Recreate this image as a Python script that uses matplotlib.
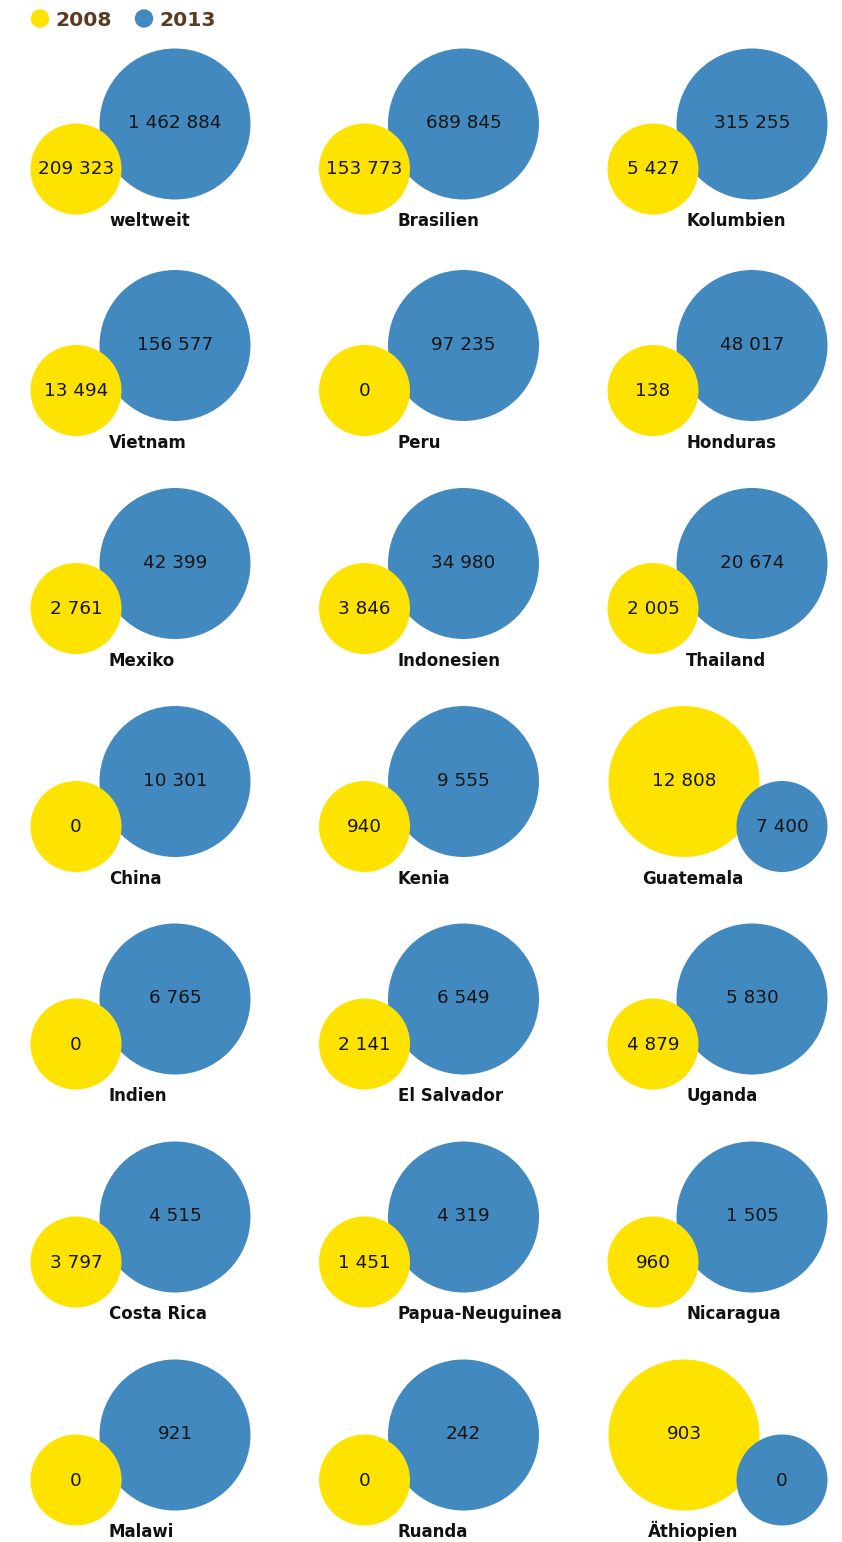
import matplotlib.pyplot as plt
from matplotlib.patches import Circle

countries = ["weltweit", "Brasilien", "Kolumbien", "Vietnam", "Peru", "Honduras",
             "Mexiko", "Indonesien", "Thailand", "China", "Kenia", "Guatemala",
             "Indien", "El Salvador", "Uganda", "Costa Rica", "Papua-Neuguinea",
             "Nicaragua", "Malawi", "Ruanda", "Äthiopien"]
v2008 = [209323, 153773, 5427, 13494, 0, 138, 2761, 3846, 2005, 0, 940, 12808,
         0, 2141, 4879, 3797, 1451, 960, 0, 0, 903]
v2013 = [1462884, 689845, 315255, 156577, 97235, 48017, 42399, 34980, 20674,
         10301, 9555, 7400, 6765, 6549, 5830, 4515, 4319, 1505, 921, 242, 0]
years = ["2008", "2013"]

YELLOW = "#FFE300"
BLUE = "#4289BF"
BROWN = "#5B3A22"

W, H = 842, 1542
fig = plt.figure(figsize=(W / 100, H / 100), dpi=100)
ax = fig.add_axes([0, 0, 1, 1])
ax.set_xlim(0, W)
ax.set_ylim(H, 0)
ax.set_aspect("equal")
ax.axis("off")

# row centres of the big circle (pixels from top)
row_y = [124, 345.5, 563.5, 781.5, 999, 1217, 1435]


def fmt(v):
    return f"{v:,}".replace(",", " ")


num_font = dict(family="DejaVu Sans", fontsize=13.2, color="#151515")
lab_font = dict(family="DejaVu Sans", fontsize=12, fontweight="bold", color="#111111")

for i, name in enumerate(countries):
    cx = (i % 3) * 288.5
    cy = row_y[i // 3]
    a, b = v2008[i], v2013[i]
    if b >= a:
        big = (cx + 175, cy, BLUE, b)
        small = (cx + 76, cy + 45, YELLOW, a)
        lx, ha = cx + 109, "left"
    else:
        big = (cx + 107, cy, YELLOW, a)
        small = (cx + 205, cy + 45, BLUE, b)
        lx, ha = cx + 116, "center"
    ax.add_patch(Circle(big[:2], 75.5, color=big[2], lw=0, zorder=1))
    ax.add_patch(Circle(small[:2], 45.5, color=small[2], lw=0, zorder=2))
    ax.text(big[0], big[1] + 4, fmt(big[3]), ha="center", va="baseline", zorder=3, **num_font)
    ax.text(small[0], small[1] + 5.5, fmt(small[3]), ha="center", va="baseline", zorder=3, **num_font)
    ax.text(lx, cy + 102, name, ha=ha, va="baseline", zorder=3, **lab_font)

# legend
for x, col, yr in [(40, YELLOW, years[0]), (144, BLUE, years[1])]:
    ax.add_patch(Circle((x, 18.5), 9.2, color=col, lw=0))
    ax.text(x + 15, 26.5, yr, ha="left", va="baseline", fontsize=14.6, fontweight="bold",
            color=BROWN, family="DejaVu Sans")

fig.savefig("out.png", dpi=100)
